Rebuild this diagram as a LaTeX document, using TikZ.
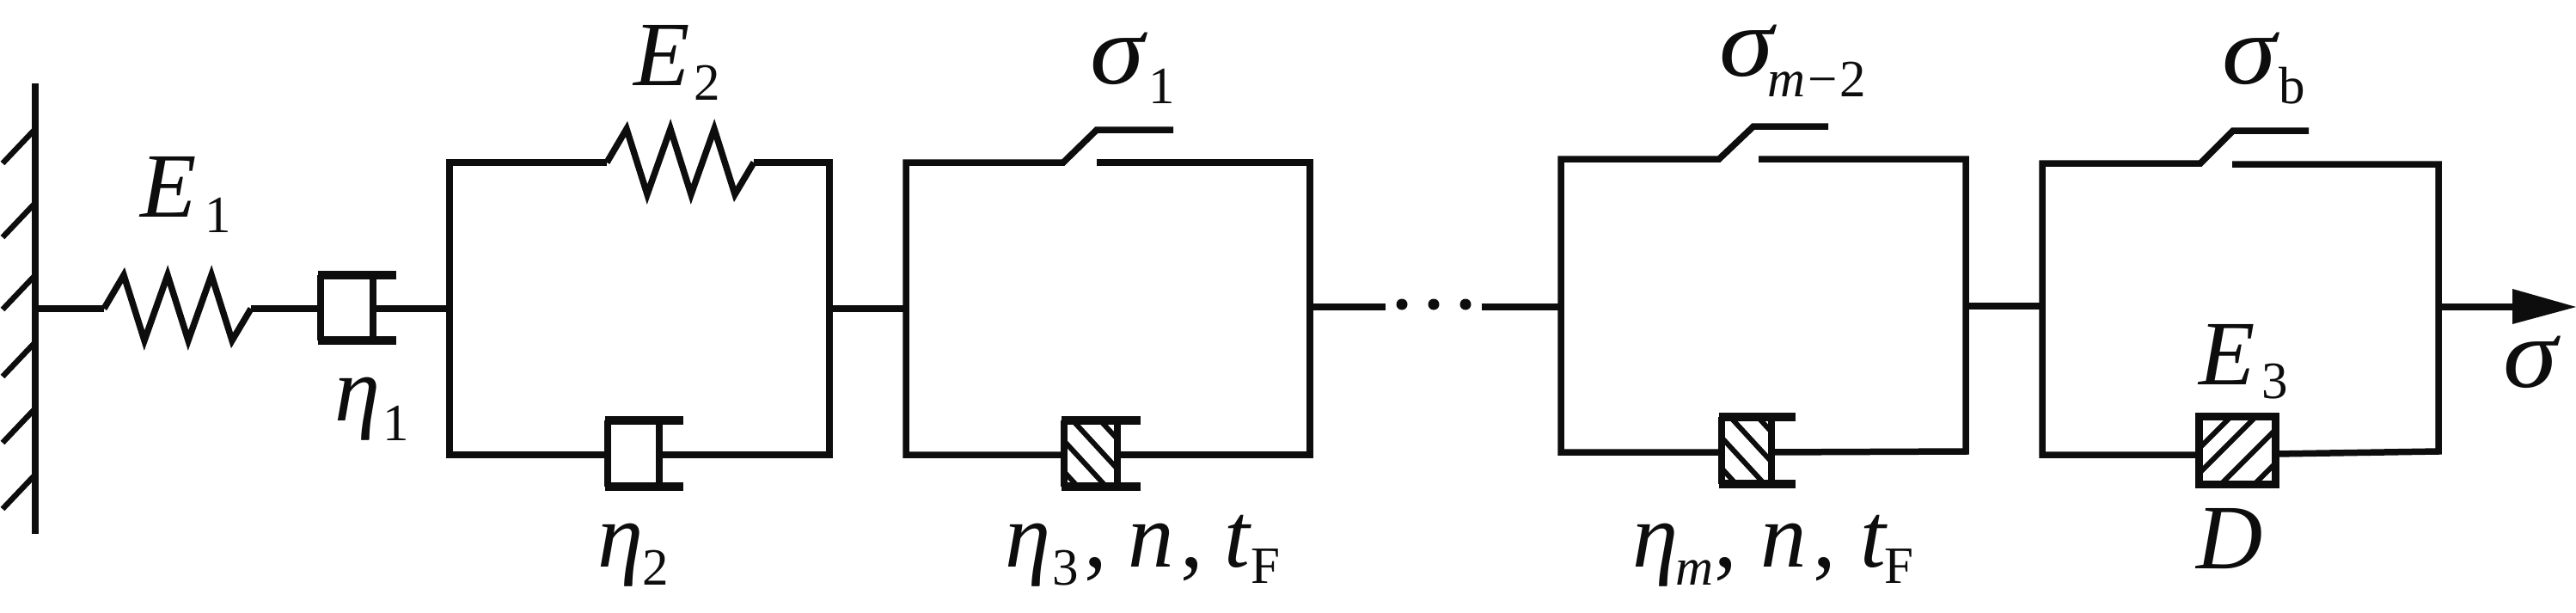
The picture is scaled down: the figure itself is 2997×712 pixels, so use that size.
\documentclass[tikz,border=0pt]{standalone}
\usepackage{fontspec}
\setmainfont{Liberation Serif}
\newcommand\bigf{\fontsize{107}{107}\selectfont}
\newcommand\sigf{\fontsize{124}{124}\selectfont}
\newcommand\subf{\fontsize{61}{61}\selectfont}
\newcommand\Sb[3]{\kern#1pt\raisebox{-#2pt}{\subf #3}}
\newcommand\It[1]{\textit{#1}}
\newcommand\Sg{\scalebox{1.03}[0.93]{\sigf\textit{σ}}}
\newcommand\spring[3]{%
  \coordinate (#1-l) at (#2,#3);
  \coordinate (#1-r) at (#2+171,#3);
  \draw[wire,line join=miter] (#1-l) -- ++(23,-39) -- ++(24,76) -- ++(27,-76) -- ++(24,76) -- ++(27,-76) -- ++(24,76) -- (#1-r);
}
\newcommand\dashpot[7]{%
  \coordinate (#1-l) at (#2,#7);
  \coordinate (#1-r) at (#3,#7);
  \draw[wire] (#2,#5) -- (#2,#6);
  \draw[wire] (#3,#5) -- (#3,#6);
  \draw[plate] (#2-3,#5) -- (#4,#5);
  \draw[plate] (#2-3,#6) -- (#4,#6);
}
\newcommand\hatchpot[4]{%
  \begin{scope}
    \clip (#1,#3) rectangle (#2,#4);
    \foreach \c in {-55,-22,10,42}
      \draw[hatch] (#1+\c,#3) -- ++(70,76);
  \end{scope}
}
\begin{document}
\begin{tikzpicture}[x=1pt,y=-1pt,
  wire/.style={line width=7.5pt,line cap=butt,line join=miter,black!95},
  plate/.style={line width=10pt,black!95},
  hatch/.style={line width=6pt,black!95},
  lab/.style={inner sep=0pt,outer sep=0pt,anchor=base west,font=\bigf,text=black!95}]
\useasboundingbox (0,0) rectangle (2997,712);
\fill[white] (0,0) rectangle (2997,712);

% wall
\coordinate (walltop) at (41,97);
\coordinate (wallbot) at (41,621);
\coordinate (wallj) at (41,359);
\draw[wire] (walltop) -- (wallbot);
\foreach \y in {150,236,320,398,475,552}
  \draw[wire,line width=6.5pt] (41,\y) -- ++(-38,40);

% first spring and dashpot
\spring{s1}{121}{359}
\dashpot{d1}{373}{434}{461}{320}{396}{359}
\draw[wire] (wallj) -- (s1-l);
\draw[wire] (s1-r) -- (d1-l);

% box 1
\coordinate (a-w) at (523,359);
\coordinate (a-e) at (965,359);
\coordinate (a-tl) at (523,189);
\coordinate (a-tr) at (965,189);
\coordinate (a-bl) at (523,529);
\coordinate (a-br) at (965,529);
\draw[wire] (d1-r) -- (a-w);
\spring{s2}{706}{189}
\dashpot{d2}{707}{767}{795}{489}{566}{529}
\draw[wire] (s2-l) -- (a-tl) -- (a-bl) -- (d2-l);
\draw[wire] (s2-r) -- (a-tr) -- (a-br) -- (d2-r);

% box 2
\coordinate (b-w) at (1054,359);
\coordinate (b-e) at (1524,357);
\coordinate (b-tl) at (1054,189);
\coordinate (b-tr) at (1524,189);
\coordinate (b-bl) at (1054,529);
\coordinate (b-br) at (1524,529);
\coordinate (b-sw) at (1237,189);
\coordinate (b-sw2) at (1276,151);
\coordinate (b-swe) at (1365,151);
\coordinate (b-swr) at (1276,189);
\draw[wire] (a-e) -- (b-w);
\hatchpot{1238}{1300}{489}{566}
\dashpot{d3}{1238}{1300}{1327}{489}{566}{529}
\draw[wire] (d3-l) -- (b-bl) -- (b-tl) -- (b-sw) -- (b-sw2) -- (b-swe);
\draw[wire] (b-swr) -- (b-tr) -- (b-br) -- (d3-r);

% dots
\coordinate (dl) at (1612,357);
\coordinate (dr) at (1724,357);
\draw[wire] (b-e) -- (dl);
\node[circle,fill=black!95,minimum width=13pt,inner sep=0pt] (dot1) at (1631,354) {};
\node[circle,fill=black!95,minimum width=13pt,inner sep=0pt] (dot2) at (1668,354) {};
\node[circle,fill=black!95,minimum width=13pt,inner sep=0pt] (dot3) at (1705,354) {};

% box 3
\coordinate (c-w) at (1816,357);
\coordinate (c-e) at (2287,356);
\coordinate (c-tl) at (1816,185);
\coordinate (c-tr) at (2287,185);
\coordinate (c-bl) at (1816,526);
\coordinate (c-br) at (2287,525);
\coordinate (c-sw) at (2000,185);
\coordinate (c-sw2) at (2040,147);
\coordinate (c-swe) at (2127,147);
\coordinate (c-swr) at (2046,185);
\draw[wire] (dr) -- (c-w);
\hatchpot{2003}{2061}{485}{563}
\dashpot{d4}{2003}{2061}{2089}{485}{563}{526}
\draw[wire] (d4-l) -- (c-bl) -- (c-tl) -- (c-sw) -- (c-sw2) -- (c-swe);
\draw[wire] (c-swr) -- (c-tr) -- (c-br) -- (d4-r);

% box 4
\coordinate (e-w) at (2376,356);
\coordinate (e-e) at (2837,357);
\coordinate (e-tl) at (2376,190);
\coordinate (e-tr) at (2837,191);
\coordinate (e-bl) at (2376,529);
\coordinate (e-br) at (2837,525);
\coordinate (e-sw) at (2560,190);
\coordinate (e-sw2) at (2598,152);
\coordinate (e-swe) at (2686,152);
\coordinate (e-swr) at (2597,191);
\coordinate (blk-l) at (2558,529);
\coordinate (blk-r) at (2647,528);
\draw[wire] (c-e) -- (e-w);
\begin{scope}
  \clip (2558,484) rectangle (2647,563);
  \foreach \c in {3080,3109,3147,3186}
    \draw[hatch] (\c-484,484) -- (\c-563,563);
\end{scope}
\draw[line width=9pt,black!95] (2558,484) rectangle (2647,563);
\draw[wire] (blk-l) -- (e-bl) -- (e-tl) -- (e-sw) -- (e-sw2) -- (e-swe);
\draw[wire] (e-swr) -- (e-tr) -- (e-br) -- (blk-r);

% output arrow
\coordinate (tip) at (2997,357);
\coordinate (headbase) at (2923,357);
\draw[wire] (e-e) -- (headbase);
\fill[black!95] (tip) -- (2923,336) -- (2923,377) -- cycle;

% labels
\node[lab] (lE1) at (163,252) {\It{E}\Sb{10}{18}{1}};
\node[lab] (lE2) at (737,99) {\It{E}\Sb{5}{17}{2}};
\node[lab] (lh1) at (389,489) {\It{η}\Sb{3}{23}{1}};
\node[lab] (lh2) at (695,659) {\It{η}\Sb{-1}{21}{2}};
\node[lab] (ls1) at (1268,97) {\Sg\Sb{1}{23}{1}};
\node[lab] (lh3) at (1169,659) {\It{η}\Sb{2}{21}{3}\kern7pt,\kern24pt\It{n}\kern8pt,\kern24pt\It{t}\Sb{-1}{19}{F}};
\node[lab] (ls2) at (2000,88) {\Sg\Sb{-11}{24}{\It{m}\kern3pt−\kern3pt2}};
\node[lab] (lh4) at (1899,659) {\It{η}\Sb{-3}{21}{\It{m}}\kern1pt,\kern28pt\It{n}\kern7pt,\kern28pt\It{t}\Sb{-4}{19}{F}};
\node[lab] (lsb) at (2585,97) {\Sg\Sb{-1}{23}{b}};
\node[lab] (lE3) at (2558,447) {\It{E}\Sb{8}{16}{3}};
\node[lab] (lD) at (2555,661) {\It{D}};
\node[lab] (ls) at (2912,450) {\Sg};
\end{tikzpicture}
\end{document}
